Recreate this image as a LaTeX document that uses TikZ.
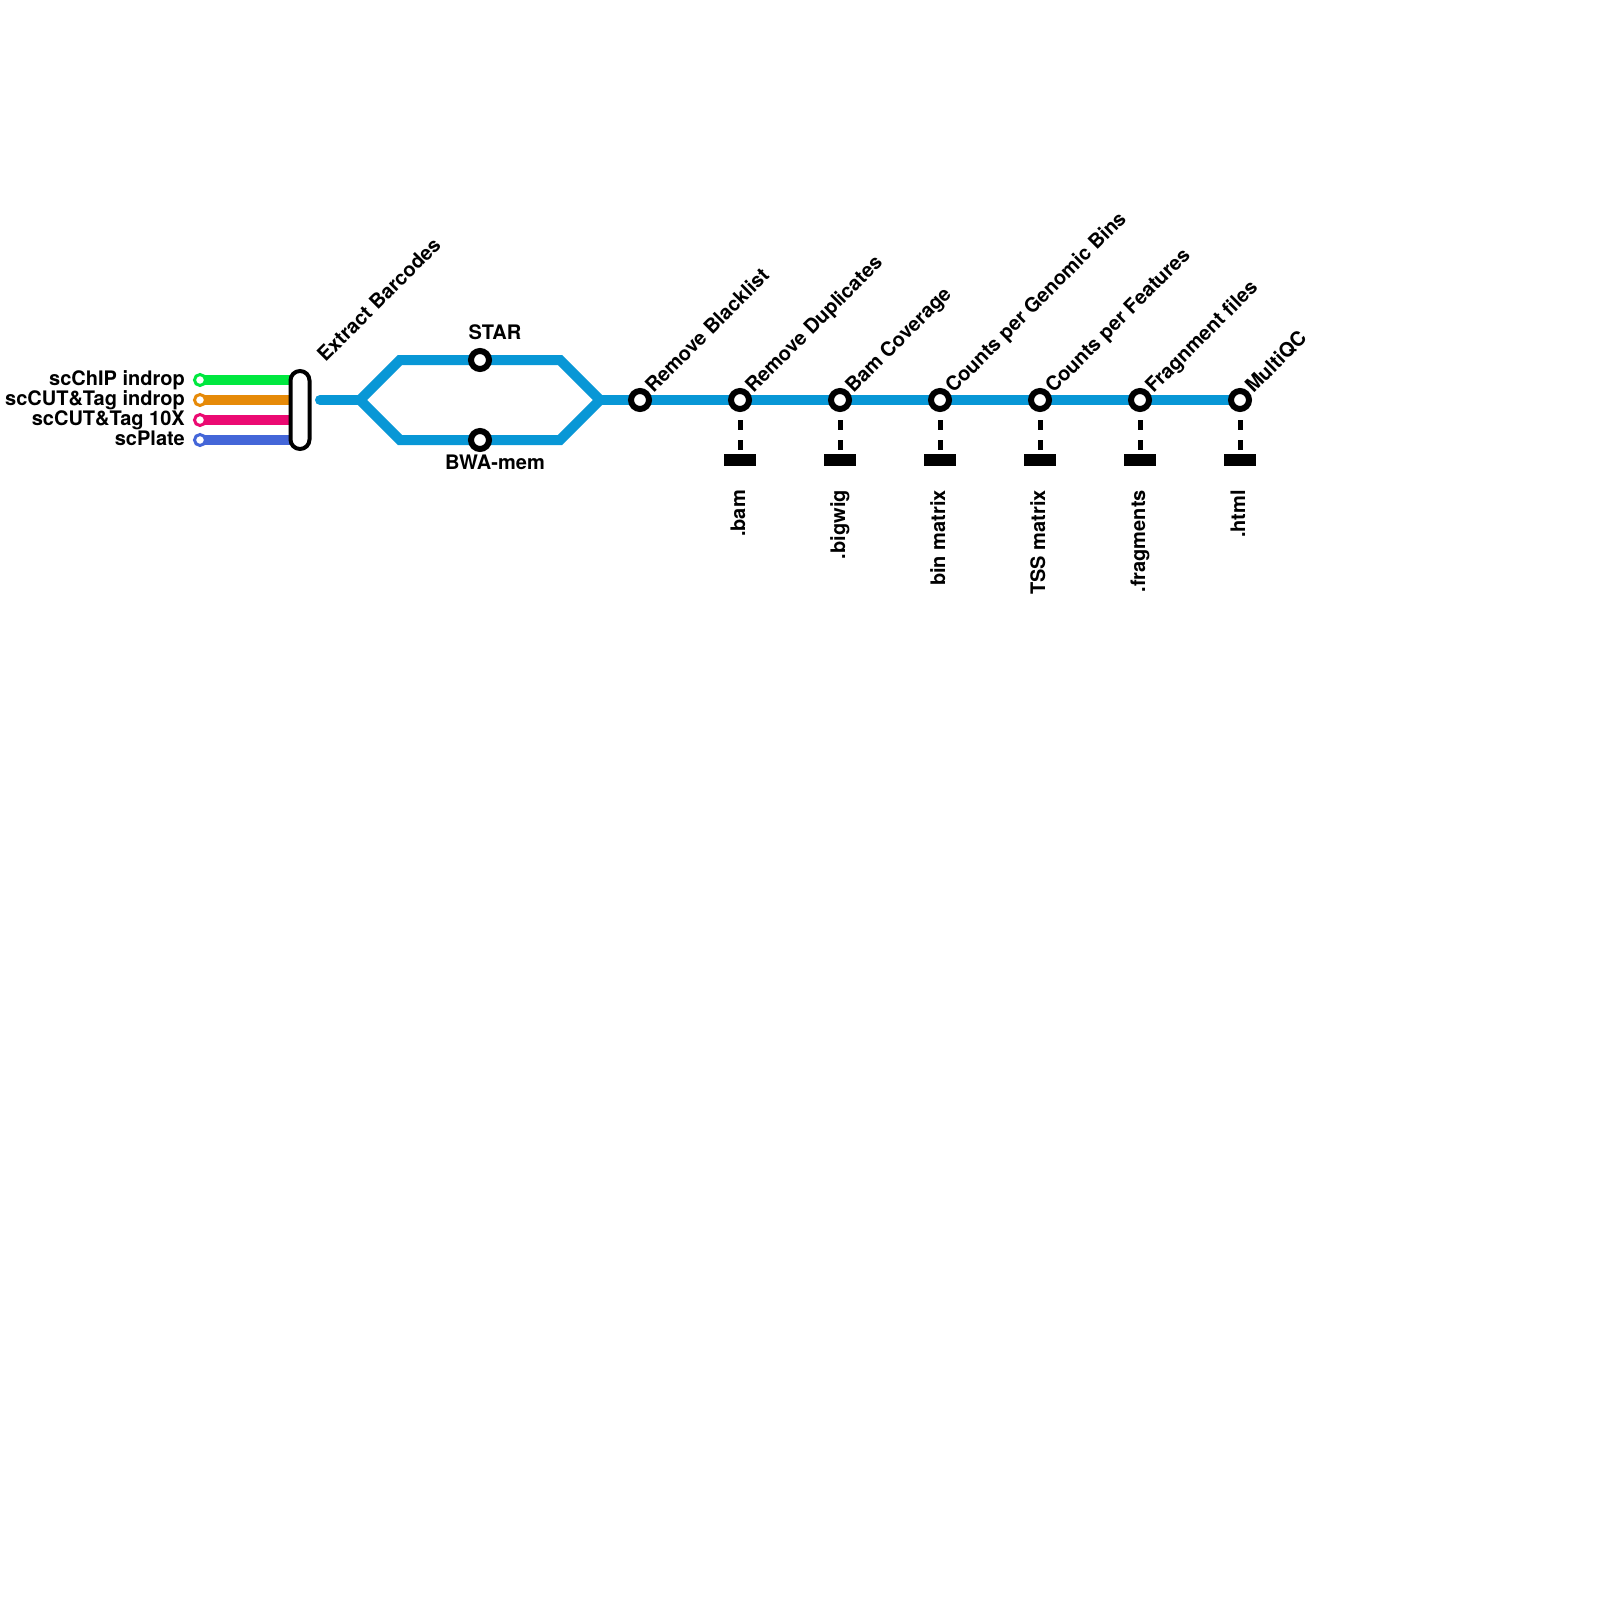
\documentclass[tikz,border=0pt]{standalone}
\usepackage{fontspec}
\setmainfont{TeX Gyre Heros}
\usepackage{tikz}
\usetikzlibrary{positioning,backgrounds}
\definecolor{LineMain}{HTML}{0897D6}
\definecolor{LineChip}{HTML}{00E83F}
\definecolor{LineIndrop}{HTML}{E68A08}
\definecolor{LineTen}{HTML}{EB0A72}
\definecolor{LinePlate}{HTML}{4466D8}

\begin{document}
\begin{tikzpicture}[
  x=1pt,y=-1pt,
  node distance=100pt,on grid,
  font=\fontsize{20}{24}\selectfont\bfseries,
  station/.style={circle,draw=black,line width=6pt,fill=white,
    inner sep=0pt,outer sep=0pt,minimum size=18pt},
  startdot/.style={circle,draw=#1,line width=3pt,fill=white,
    inner sep=0pt,outer sep=0pt,minimum size=11pt},
  outfile/.style={fill=black,inner sep=0pt,minimum width=32pt,minimum height=12pt},
  bar/.style={draw=black,line width=4pt,fill=white,rounded corners=9.5pt,
    inner sep=0pt,minimum width=19pt,minimum height=78pt},
  mainline/.style={draw=LineMain,line width=10pt},
  inline/.style={draw=#1,line width=10pt},
  filedash/.style={draw=black,line width=5pt,dash pattern=on 10pt off 10pt},
  steplabel/.style={rotate=45,anchor=base west,inner sep=0pt},
  filelabel/.style={rotate=90,anchor=base east,inner sep=0pt},
  inlabel/.style={anchor=base east,inner sep=0pt},
  toollabel/.style={anchor=base,inner sep=0pt}
]
\useasboundingbox (0,0) rectangle (1600,1600);

% inputs
\node[bar] (barcodes) at (300,410) {};
\node[startdot=LineChip] (chip) at (200,380) {};
\node[startdot=LineIndrop,below=20pt of chip] (cutindrop) {};
\node[startdot=LineTen,below=20pt of cutindrop] (cutten) {};
\node[startdot=LinePlate,below=20pt of cutten] (plate) {};
\node[inlabel] (chiptxt) at ([shift={(-15,5)}]chip.center) {scChIP indrop};
\node[inlabel] (cutindroptxt) at ([shift={(-15,5)}]cutindrop.center) {scCUT\&Tag indrop};
\node[inlabel] (cuttentxt) at ([shift={(-15,5)}]cutten.center) {scCUT\&Tag 10X};
\node[inlabel] (platetxt) at ([shift={(-15,5)}]plate.center) {scPlate};
\node[steplabel] (barcodestxt) at (325.5,363) {Extract Barcodes};

% aligners
\coordinate (mainstart) at (320,400);
\coordinate (split) at (360,400);
\coordinate (merge) at (600,400);
\coordinate (upl) at (400,360);
\coordinate (upr) at (560,360);
\coordinate (lowl) at (400,440);
\coordinate (lowr) at (560,440);
\node[station] (star) at (480,360) {};
\node[station] (bwa) at (480,440) {};
\node[toollabel] (startxt) at ([shift={(15,-21)}]star.center) {STAR};
\node[toollabel] (bwatxt) at ([shift={(15,29)}]bwa.center) {BWA-mem};

% main line
\node[station] (blacklist) at (640,400) {};
\node[station,right=of blacklist] (dedup) {};
\node[station,right=of dedup] (coverage) {};
\node[station,right=of coverage] (bins) {};
\node[station,right=of bins] (features) {};
\node[station,right=of features] (fragments) {};
\node[station,right=of fragments] (multiqc) {};
\node[steplabel] (blacklisttxt) at ([shift={(13.5,-6)}]blacklist.center) {Remove Blacklist};
\node[steplabel] (deduptxt) at ([shift={(13.5,-6)}]dedup.center) {Remove Duplicates};
\node[steplabel] (coveragetxt) at ([shift={(13.5,-6)}]coverage.center) {Bam Coverage};
\node[steplabel] (binstxt) at ([shift={(13.5,-6)}]bins.center) {Counts per Genomic Bins};
\node[steplabel] (featurestxt) at ([shift={(13.5,-6)}]features.center) {Counts per Features};
\node[steplabel] (fragmentstxt) at ([shift={(13.5,-6)}]fragments.center) {Fragnment files};
\node[steplabel] (multiqctxt) at ([shift={(13.5,-6)}]multiqc.center) {MultiQC};

% outputs
\node[outfile,below=60pt of dedup] (bam) {};
\node[outfile,below=60pt of coverage] (bigwig) {};
\node[outfile,below=60pt of bins] (binmat) {};
\node[outfile,below=60pt of features] (tssmat) {};
\node[outfile,below=60pt of fragments] (fragfile) {};
\node[outfile,below=60pt of multiqc] (html) {};
\node[filelabel] (bamtxt) at ([shift={(5,30)}]bam.center) {.bam};
\node[filelabel] (bigwigtxt) at ([shift={(5,30)}]bigwig.center) {.bigwig};
\node[filelabel] (binmattxt) at ([shift={(5,30)}]binmat.center) {bin matrix};
\node[filelabel] (tssmattxt) at ([shift={(5,30)}]tssmat.center) {TSS matrix};
\node[filelabel] (fragfiletxt) at ([shift={(5,30)}]fragfile.center) {.fragments};
\node[filelabel] (htmltxt) at ([shift={(5,30)}]html.center) {.html};

% connectors run under the nodes
\begin{pgfonlayer}{background}
\draw[inline=LineChip] (chip.center) -- (chip -| barcodes.center);
\draw[inline=LineIndrop] (cutindrop.center) -- (cutindrop -| barcodes.center);
\draw[inline=LineTen] (cutten.center) -- (cutten -| barcodes.center);
\draw[inline=LinePlate] (plate.center) -- (plate -| barcodes.center);
\draw[mainline,line cap=round] (mainstart) -- (split);
\draw[mainline] (star.center) -- (upl) -- (split) -- (lowl) -- (bwa.center);
\draw[mainline] (star.center) -- (upr) -- (merge) -- (lowr) -- (bwa.center);
\draw[mainline] (merge) -- (blacklist.center);
\draw[mainline] (blacklist.center) -- (dedup.center);
\draw[mainline] (dedup.center) -- (coverage.center);
\draw[mainline] (coverage.center) -- (bins.center);
\draw[mainline] (bins.center) -- (features.center);
\draw[mainline] (features.center) -- (fragments.center);
\draw[mainline] (fragments.center) -- (multiqc.center);
\draw[filedash] (dedup.center) -- (bam.center);
\draw[filedash] (coverage.center) -- (bigwig.center);
\draw[filedash] (bins.center) -- (binmat.center);
\draw[filedash] (features.center) -- (tssmat.center);
\draw[filedash] (fragments.center) -- (fragfile.center);
\draw[filedash] (multiqc.center) -- (html.center);
\end{pgfonlayer}
\end{tikzpicture}
\end{document}
